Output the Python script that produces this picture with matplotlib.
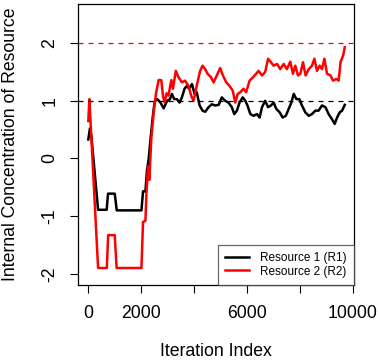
import matplotlib
matplotlib.use("Agg")
import matplotlib.pyplot as plt

plt.rcParams['font.family'] = ['Liberation Sans', 'DejaVu Sans']

# values (iteration, concentration)
r1_iter = [0, 60, 115, 370, 695, 745, 1000, 1075, 2010, 2070, 2160, 2220, 2280,
           2350, 2440, 2510, 2610, 2730, 2850, 2980, 3090, 3160, 3250, 3350,
           3450, 3540, 3640, 3730, 3810, 3920, 4020, 4100, 4210, 4320, 4420,
           4550, 4670, 4800, 4930, 5050, 5180, 5300, 5430, 5520, 5620, 5720,
           5840, 5940, 6020, 6130, 6250, 6380, 6480, 6570, 6690, 6800, 6910,
           7010, 7110, 7240, 7350, 7470, 7580, 7680, 7770, 7870, 7980, 8080,
           8210, 8340, 8460, 8590, 8710, 8840, 8970, 9090, 9220, 9320, 9410,
           9510, 9600, 9700]
r1_vals = [0.33, 0.52, 0.39, -0.89, -0.89, -0.61, -0.61, -0.90, -0.90, -0.57,
           -0.57, -0.20, -0.02, 0.32, 0.73, 0.99, 1.03, 0.97, 0.87, 1.00, 1.03,
           1.12, 1.03, 1.03, 0.97, 1.06, 1.21, 1.26, 1.21, 1.29, 1.12, 1.15,
           0.92, 0.83, 0.81, 0.89, 0.94, 0.92, 0.93, 1.06, 1.00, 0.97, 0.89,
           0.77, 0.83, 0.97, 1.06, 1.00, 0.92, 0.77, 0.74, 0.77, 0.71, 0.89,
           1.00, 0.89, 0.92, 0.97, 0.86, 0.80, 0.71, 0.74, 0.86, 0.97, 1.12,
           1.03, 1.03, 0.92, 0.80, 0.74, 0.77, 0.83, 0.83, 0.92, 0.89, 0.77,
           0.68, 0.60, 0.71, 0.80, 0.83, 0.93]

r2_iter = [0, 40, 370, 700, 750, 1000, 1070, 2010, 2070, 2160, 2200, 2260, 2310,
           2380, 2470, 2560, 2660, 2760, 2830, 2890, 2960, 3030, 3140, 3200,
           3310, 3410, 3540, 3660, 3790, 3890, 3980, 4100, 4230, 4320, 4420,
           4510, 4640, 4740, 4860, 4990, 5090, 5220, 5340, 5460, 5560, 5650,
           5750, 5870, 5970, 6100, 6230, 6350, 6440, 6570, 6690, 6800, 6910,
           7010, 7140, 7260, 7390, 7510, 7640, 7740, 7830, 7930, 8020, 8120,
           8220, 8340, 8460, 8550, 8650, 8750, 8840, 8930, 9030, 9160, 9260,
           9380, 9470, 9540, 9640, 9700]
r2_vals = [0.65, 1.03, -1.90, -1.90, -1.33, -1.33, -1.90, -1.90, -1.10, -1.08,
           -0.60, -0.14, -0.37, 0.32, 0.79, 1.13, 1.36, 1.36, 1.07, 0.97, 1.13,
           1.09, 1.36, 1.21, 1.52, 1.41, 1.32, 1.35, 1.26, 1.09, 1.00, 1.26,
           1.52, 1.61, 1.55, 1.47, 1.41, 1.32, 1.44, 1.57, 1.44, 1.32, 1.26,
           1.18, 0.97, 1.12, 1.15, 1.21, 1.15, 1.35, 1.41, 1.47, 1.52, 1.44,
           1.50, 1.73, 1.67, 1.61, 1.64, 1.55, 1.64, 1.55, 1.68, 1.47, 1.61,
           1.44, 1.47, 1.67, 1.44, 1.55, 1.61, 1.73, 1.52, 1.61, 1.55, 1.73,
           1.47, 1.44, 1.35, 1.38, 1.35, 1.67, 1.79, 1.93]

targets = [1, 2]
target_colors = ['black', 'red']
xticks = [0, 2000, 4000, 6000, 8000, 10000]
xtick_labels = ['0', '2000', '', '6000', '', '10000']
yticks = [-2, -1, 0, 1, 2]

fig = plt.figure(figsize=(3.8, 3.64), dpi=100)
ax = fig.add_axes([78 / 380, 1 - 285.3 / 364, 276 / 380, 281.3 / 364])

ax.plot(r1_iter, r1_vals, color='black', lw=1.8, label='Resource 1 (R1)')
ax.plot(r2_iter, r2_vals, color='red', lw=1.8, label='Resource 2 (R2)')
for t, c in zip(targets, target_colors):
    ax.axhline(t, color=c, lw=0.9, ls=(0, (4, 4)))

ax.set_xlim(-390, 10050)
ax.set_ylim(-2.2, 2.68)
ax.set_xticks(xticks)
ax.set_xticklabels(xtick_labels)
ax.set_yticks(yticks)
ax.set_yticklabels([str(v) for v in yticks], rotation=90, va='center')
ax.tick_params(direction='out', length=6, width=0.8, labelsize=12.7, pad=8)
for s in ax.spines.values():
    s.set_linewidth(0.9)

ax.set_xlabel('Iteration Index', fontsize=12.7, va='center')
ax.xaxis.set_label_coords(0.5, -0.237)
ax.set_ylabel('Internal Concentration of Resource', fontsize=12.7, va='center')
ax.yaxis.set_label_coords(-0.243, 0.5)

leg = ax.legend(loc='lower right', fontsize=8.5, frameon=True, fancybox=False,
                borderaxespad=0, handlelength=2.0, handletextpad=0.9,
                borderpad=0.65, labelspacing=0.1)
leg.get_frame().set_edgecolor('#444444')
leg.get_frame().set_linewidth(0.9)

fig.savefig('out.png', dpi=100)
